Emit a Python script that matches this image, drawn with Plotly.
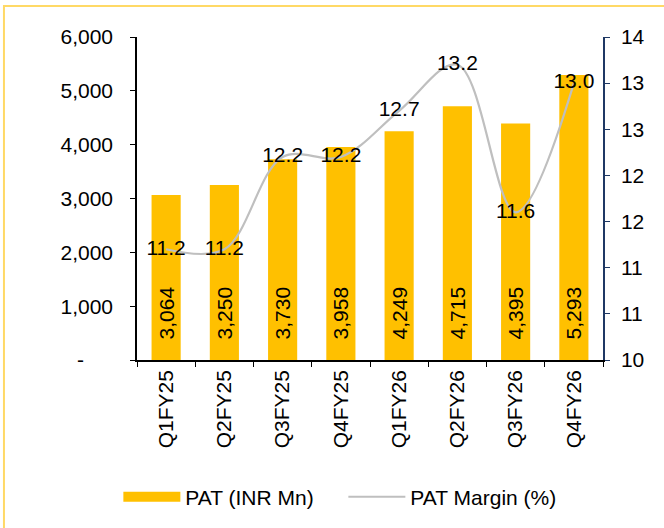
import plotly.graph_objects as go

quarters = ["Q1FY25", "Q2FY25", "Q3FY25", "Q4FY25", "Q1FY26", "Q2FY26", "Q3FY26", "Q4FY26"]
pat = [3064, 3250, 3730, 3958, 4249, 4715, 4395, 5293]
pat_margin = [11.2, 11.2, 12.2, 12.2, 12.7, 13.2, 11.6, 13.0]

left_ticks = [0, 1000, 2000, 3000, 4000, 5000, 6000]
left_text = ["-" + "\u00a0" * 5, "1,000", "2,000", "3,000", "4,000", "5,000", "6,000"]
right_ticks = [10, 10.5, 11, 11.5, 12, 12.5, 13, 13.5]
right_text = ["10", "11", "11", "12", "12", "13", "13", "14"]

FONT = "Arial, Liberation Sans, sans-serif"
FS = 21
GOLD = "#FFC000"
pad = "\u00a0" * 3  # push the bar labels up off the base

fig = go.Figure()

fig.add_trace(go.Bar(
    x=quarters, y=pat, name="PAT (INR Mn)", showlegend=False,
    marker=dict(color=GOLD, line=dict(width=0)),
    width=0.5,
    text=[pad + f"{v:,}" for v in pat],
    textposition="inside", insidetextanchor="start", textangle=-90,
    textfont=dict(size=FS, color="black", family=FONT),
    cliponaxis=False,
))

# legend-only entry so the bar swatch is a wide flat block like the original
fig.add_trace(go.Scatter(
    x=[None], y=[None], name="PAT (INR Mn)", mode="lines",
    line=dict(color=GOLD, width=10),
))

fig.add_trace(go.Scatter(
    x=quarters, y=pat_margin, name="PAT Margin (%)", yaxis="y2",
    mode="lines+text", line=dict(color="#BFBFBF", width=2.2, shape="spline"),
    text=[f"{v:.1f}" for v in pat_margin], textposition="middle center",
    textfont=dict(size=FS, color="black", family=FONT),
    cliponaxis=False,
))

# light gold frame round the whole chart
fig.add_shape(type="rect", xref="paper", yref="paper",
              x0=-0.2855, x1=1.3, y0=-0.7, y1=1.0957,
              line=dict(color="#FFD966", width=2), layer="below")

fig.update_layout(
    width=664, height=528,
    margin=dict(l=137, r=61, t=37, b=167),
    paper_bgcolor="white", plot_bgcolor="white",
    font=dict(family=FONT, size=FS, color="black"),
    showlegend=True,
    legend=dict(orientation="h", x=-0.04, xanchor="left", y=-0.42, yanchor="middle",
                font=dict(size=FS), tracegroupgap=0, itemwidth=57, entrywidth=153),
    xaxis=dict(
        type="category", range=[-0.5, 7.5], tickangle=-90,
        tickson="boundaries", ticks="outside", ticklen=5, tickcolor="black",
        showline=True, linecolor="black", linewidth=1.5, showgrid=False,
        tickfont=dict(size=FS),
    ),
    yaxis=dict(
        range=[0, 6000], tickvals=left_ticks, ticktext=left_text,
        ticks="outside", ticklen=5, tickcolor="black", ticklabelstandoff=13,
        showline=True, linecolor="black", linewidth=1.5, showgrid=False,
        zeroline=False, tickfont=dict(size=FS),
    ),
    yaxis2=dict(
        overlaying="y", side="right", range=[10, 13.5],
        tickvals=right_ticks, ticktext=right_text,
        ticks="outside", ticklen=5, tickcolor="#1F3864", ticklabelstandoff=7,
        showline=True, linecolor="#1F3864", linewidth=1.5, showgrid=False,
        zeroline=False, tickfont=dict(size=FS),
    ),
)

# drop the page's default body margin so the figure sits at the window corner
fig.write_html("out.html", config={"displayModeBar": False},
               post_script="document.body.style.margin='0';")
